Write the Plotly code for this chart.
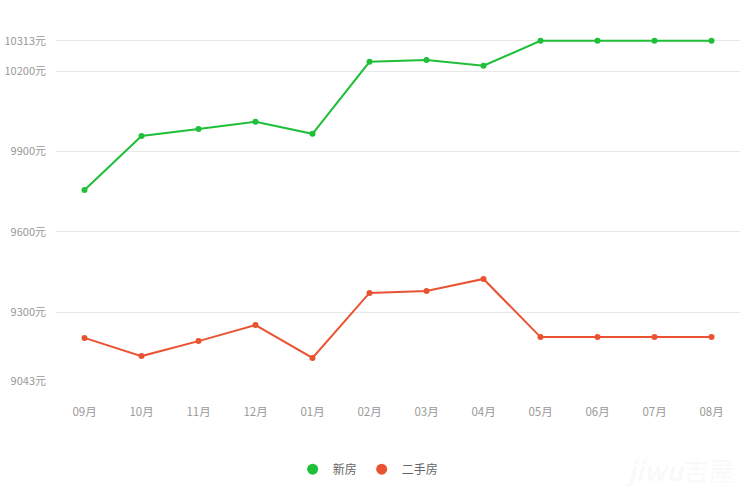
import plotly.graph_objects as go

months = ["09月", "10月", "11月", "12月", "01月", "02月", "03月", "04月", "05月", "06月", "07月", "08月"]
new_house = [9756, 9958, 9984, 10011, 9966, 10235, 10242, 10220, 10313, 10313, 10313, 10313]
second_hand = [9204, 9136, 9192, 9252, 9129, 9372, 9379, 9424, 9207, 9207, 9207, 9207]
y_ticks = [9043, 9300, 9600, 9900, 10200, 10313]
y_tick_text = [f"{v}元" for v in y_ticks]

green = "#1fbf3a"
red = "#ea5332"
font_family = "Noto Sans CJK SC, Noto Sans, sans-serif"

fig = go.Figure()
fig.add_trace(go.Scatter(x=months, y=new_house, mode="lines+markers", name="新房",
                         line=dict(color=green, width=2), marker=dict(color=green, size=6),
                         cliponaxis=False, showlegend=False))
fig.add_trace(go.Scatter(x=months, y=second_hand, mode="lines+markers", name="二手房",
                         line=dict(color=red, width=2), marker=dict(color=red, size=6),
                         cliponaxis=False, showlegend=False))
# legend entries as dots
fig.add_trace(go.Scatter(x=[None], y=[None], mode="markers", name="新房",
                         marker=dict(color=green, size=11)))
fig.add_trace(go.Scatter(x=[None], y=[None], mode="markers", name="二手房",
                         marker=dict(color=red, size=11)))

fig.update_layout(
    width=756, height=504,
    margin=dict(l=56, r=16, t=39, b=123, autoexpand=False),
    plot_bgcolor="white", paper_bgcolor="white",
    font=dict(family=font_family, size=12, color="#999999"),
    showlegend=True,
    legend=dict(orientation="h", xref="container", yref="container",
                x=0.487, y=0.069, xanchor="center", yanchor="middle",
                font=dict(size=12, color="#666666"), itemwidth=30),
    xaxis=dict(type="category", range=[-0.5, 11.5], showgrid=False, zeroline=False,
               showline=False, ticks="", ticklabelstandoff=22, automargin=False,
               tickfont=dict(size=11.5, color="#999999")),
    yaxis=dict(range=[9043, 10320], tickvals=y_ticks, ticktext=y_tick_text,
               showgrid=True, gridcolor="#e8e8e8", gridwidth=1, zeroline=False,
               showline=False, ticks="", ticklabelstandoff=9, automargin=False,
               tickfont=dict(size=11, color="#999999")),
    annotations=[dict(text="<b><i>jiwu</i></b>吉屋", xref="paper", yref="paper",
                      x=0.995, y=-0.32, xanchor="right", yanchor="bottom", showarrow=False,
                      font=dict(size=26, color="rgba(210,210,210,0.12)"))],
)

fig.write_html("out.html")
